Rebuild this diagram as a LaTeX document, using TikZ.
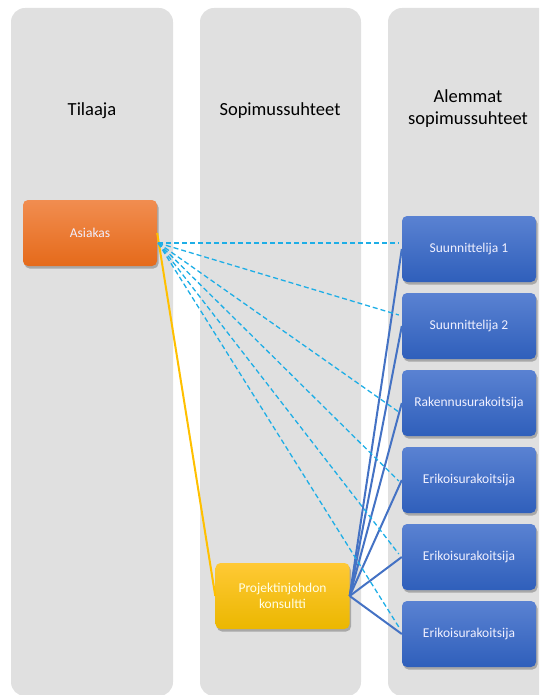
\documentclass[tikz,border=0pt]{standalone}
\usepackage{fontspec}
\setmainfont{Carlito}
\usetikzlibrary{shadows}
\definecolor{colgray}{HTML}{E0E0E0}
\definecolor{orTop}{HTML}{F18D50}
\definecolor{orBot}{HTML}{E56A1A}
\definecolor{blTop}{HTML}{5A82D2}
\definecolor{blBot}{HTML}{2F5FBB}
\definecolor{goTop}{HTML}{FFC935}
\definecolor{goBot}{HTML}{EBB700}
\definecolor{dashc}{HTML}{1EAEE6}
\definecolor{solidc}{HTML}{4472C4}
\definecolor{goldc}{HTML}{FFC000}
\begin{document}
\begin{tikzpicture}[x=1pt,y=-1pt,
  col/.style={fill=colgray, draw=none, rounded corners=14pt},
  title/.style={font=\fontsize{18.5}{22}\selectfont, align=center, text=black},
  box/.style={rounded corners=5pt, minimum width=134pt, minimum height=66pt,
    text=white!94!blue, font=\fontsize{13.5}{16}\selectfont, align=center, inner sep=2pt,
    drop shadow={shadow xshift=1.5pt, shadow yshift=-2.5pt, opacity=0.35, fill=black!75}},
  orangebox/.style={box, top color=orTop, bottom color=orBot},
  bluebox/.style={box, top color=blTop, bottom color=blBot},
  goldbox/.style={box, top color=goTop, bottom color=goBot, text=white!90!yellow},
  dashline/.style={draw=dashc, line width=1.3pt, dash pattern=on 5pt off 3pt},
  solidline/.style={draw=solidc, line width=2pt},
  goldline/.style={draw=goldc, line width=2pt}]
\useasboundingbox (0,0) rectangle (539,695);
\clip (0,0) rectangle (539,695);
% columns
\path[col] (11,8) rectangle (173,696);
\path[col] (200,8) rectangle (361,696);
\path[col] (388,8) rectangle (560,696);
% titles
\node[title] (t1) at (92,111) {Tilaaja};
\node[title] (t2) at (280,111) {Sopimussuhteet};
\node[title] (t3) at (468,109) {Alemmat\\sopimussuhteet};
% boxes
\node[orangebox] (a) at (90,233) {Asiakas};
\node[goldbox] (p) at (282.5,596) {Projektinjohdon\\konsultti};
\node[bluebox] (b1) at (469,249) {Suunnittelija 1};
\node[bluebox] (b2) at (469,326) {Suunnittelija 2};
\node[bluebox] (b3) at (469,403) {Rakennusurakoitsija};
\node[bluebox] (b4) at (469,480) {Erikoisurakoitsija};
\node[bluebox] (b5) at (469,557) {Erikoisurakoitsija};
\node[bluebox] (b6) at (469,634) {Erikoisurakoitsija};
% connectors
\coordinate (src) at ([xshift=1pt,yshift=-10pt]a.east);
\draw[goldline] (a.east) -- (p.west);
\foreach \b in {b1,b2,b3,b4,b5,b6}{\draw[solidline] (p.east) -- (\b.west);}
\draw[dashline] (src) -- ([xshift=-3pt,yshift=6pt]b1.west);
\draw[dashline] (src) -- ([xshift=-3pt,yshift=11pt]b2.west);
\draw[dashline] (src) -- ([xshift=-3pt,yshift=-9pt]b3.west);
\draw[dashline] (src) -- ([xshift=-3pt,yshift=-1pt]b4.west);
\draw[dashline] (src) -- ([xshift=-3pt,yshift=3pt]b5.west);
\draw[dashline] (src) -- ([xshift=-3pt,yshift=7pt]b6.west);
\end{tikzpicture}
\end{document}
